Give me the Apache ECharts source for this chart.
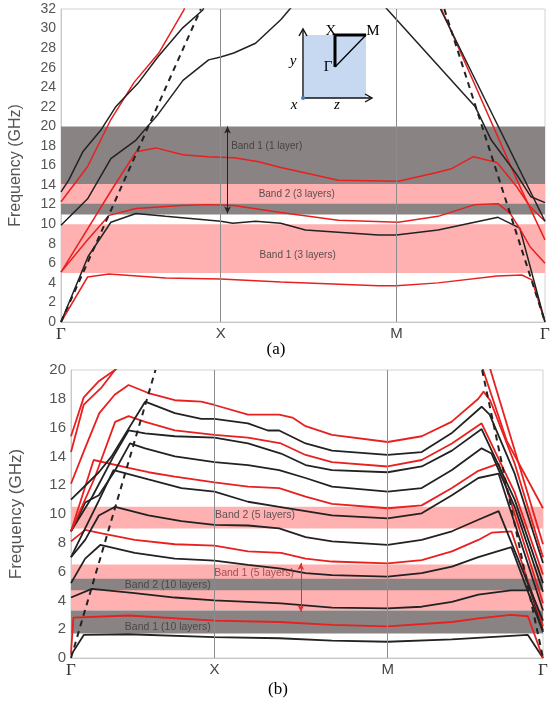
<!DOCTYPE html>
<html><head><meta charset="utf-8">
<script src="https://cdn.jsdelivr.net/npm/echarts@6/dist/echarts.min.js"></script>
<style>html,body{margin:0;padding:0;background:#fff}#c{width:558px;height:708px}</style>
</head><body><div id="c"></div>
<script>
// ---------- Panel (a) : 1-layer / 3-layer dispersion ----------
const a_yTicks = [0, 32, 2];
const a_kPoints = [{pos:0,lab:'Γ'},{pos:33.0,lab:'X'},{pos:69.3,lab:'M'},{pos:100,lab:'Γ'}];
const a_grayBands = [[11.0,20.0]];
const a_pinkBands = [[12.1,14.1],[5.0,10.0]];
const a_blackAcoustic = [[0,0],[5.6,6.7],[10.3,10.2],[15.5,11.1],[21.6,10.8],[33.0,10.3],[35.5,10.1],[40.2,10.3],[45.4,10.1],[50.5,9.4],[65.6,8.9],[69.3,8.9],[77.9,9.4],[90.3,10.7],[94.8,9.6],[100,0]];
const a_redAcoustic = [[0,0],[5.5,4.6],[9.9,4.9],[21.6,4.5],[33.0,4.4],[45.4,4.1],[65.6,3.7],[69.3,3.7],[77.9,4.0],[90.1,4.7],[95.2,4.8],[97.3,4.3],[100,0]];
const a_red12 = [[0,5.1],[5.5,8.4],[9.9,10.9],[15.5,11.6],[24.7,11.9],[30.3,12.0],[35.7,11.9],[45.4,11.2],[57.3,10.4],[69.7,10.2],[77.9,10.8],[85.5,12.0],[90.3,12.1],[92.8,11.1],[95.2,9.2],[96.9,7.7],[100,6.0]];
const a_red17 = [[0,5.1],[10.7,13.7],[15.5,17.4],[19.6,17.8],[25.2,17.1],[30.3,16.9],[35.7,16.8],[40.6,16.4],[45.4,15.8],[57.3,14.5],[69.7,14.4],[77.9,15.3],[80.8,15.7],[85.2,16.9],[90.1,16.3],[94.2,13.8],[96.9,11.8],[100,10.3]];
const a_redUpLeft = [[0,12.3],[5.5,15.9],[10.3,20.7],[15.1,24.5],[20.2,27.5],[25.4,31.9],[25.6,32.3]];
const a_redUpRight = [[78.6,32],[94.2,14.5],[100,8.4]];
const a_blackUpLeft = [[0,13.3],[1.6,14.5],[4.5,17.4],[8.2,19.6],[11.3,22.0],[15.9,24.4],[20.0,27.1],[25.2,30.1],[29.3,31.9],[29.6,32.3]];
const a_blackMidLeft = [[0,9.9],[5.5,12.6],[10.3,16.7],[15.5,18.6],[17.9,20.0],[20.0,21.2],[25.2,24.7],[30.5,26.8],[33.0,27.1],[35.7,27.5],[40.2,28.5],[45.4,30.9],[47.8,32.3]];
const a_blackMidRight = [[66.8,32.3],[85.6,22.0],[88.9,18.6],[94.0,15.2],[97.1,12.8],[100,12.2]];
const a_blackUpRight = [[78.4,32],[100,10.3]];
const a_dashLeft = [[0,0],[28.9,32]];
const a_dashRight = [[79.2,32],[100,0]];
const a_arrow = {t:34.4, from:20.0, to:11.1};
const a_labels = [
  {t:42.5, f:18.0, text:'Band 1 (1 layer)'},
  {t:48.7, f:13.1, text:'Band 2 (3 layers)'},
  {t:48.9, f:6.85, text:'Band 1 (3 layers)'}
];

// ---------- Panel (b) : 5-layer / 10-layer dispersion ----------
const b_yTicks = [0, 20, 2];
const b_kPoints = [{pos:0,lab:'Γ'},{pos:30.4,lab:'X'},{pos:67.1,lab:'M'},{pos:100,lab:'Γ'}];
const b_pinkBandsLow = [[3.3,6.5]];
const b_grayBands = [[4.7,5.5],[1.7,3.3]];
const b_pinkBandsHigh = [[9.0,10.5]];
const b_redA = [[0,15.4],[2.7,18.1],[5.8,19.2],[9.3,20.0],[10.5,20.3]];
const b_redB = [[0,14.3],[2.7,17.6],[6.5,18.8],[9.3,20.0],[10.0,20.3]];
const b_redA_R = [[87.0,20.3],[92.3,15.1],[100,10.4]];
const b_redB_R = [[88.6,20.3],[100,7.9]];
const b_dashLeft = [[0,0],[17.9,20]];
const b_dashRight = [[87.1,20],[100,0]];
const b_L1 = [[0,12.1],[2.9,14.5],[6.0,17.0],[9.3,18.3],[12.2,18.96],[16.4,18.4],[22.0,17.9],[27.6,17.8],[30.4,17.57],[37.5,16.9],[44.1,16.9],[46.9,16.7],[49.7,16.1],[55.3,15.5],[67.1,15.0],[74.3,15.4],[80.6,16.4],[86.3,18.0],[87.4,18.5],[88.8,17.9],[94,13.5],[100,7.0]];
const b_L2 = [[0,11.0],[5.9,12.9],[8.6,14.0],[15.7,17.8],[22.0,17.0],[27.6,16.6],[30.4,16.6],[37.5,16.3],[41.7,15.8],[44.1,15.8],[49.7,14.9],[55.3,14.4],[67.1,14.1],[74.3,14.3],[80.6,15.6],[87.0,17.45],[88.7,16.9],[94,12.8],[100,6.6]];
const b_L3 = [[0,8.8],[5,12.5],[9.35,16.4],[12.2,16.8],[15.7,16.4],[22.0,15.8],[27.6,15.6],[30.4,15.5],[37.5,15.3],[44.5,14.9],[49.7,14.1],[55.3,13.6],[67.1,13.3],[74.3,13.75],[80.7,14.9],[87.0,16.3],[94,11.5],[100,5.8]];
const b_L4 = [[0,8.8],[4.5,11.2],[9.0,14.0],[12.2,15.8],[15.7,15.6],[22.0,15.4],[30.4,15.3],[37.5,14.9],[44.5,14.2],[49.7,13.4],[55.3,13.05],[67.1,12.9],[74.3,13.3],[80.7,14.4],[87.0,15.9],[94,11.0],[100,5.2]];
const b_L5 = [[0,8.8],[3.0,10.8],[5.9,11.3],[9.3,13.0],[12.5,14.9],[15.7,14.56],[22.0,14.0],[30.4,13.6],[37.5,13.4],[44.1,13.05],[49.7,12.5],[55.3,11.9],[67.1,11.55],[74.3,11.8],[80.7,13.05],[87.0,14.56],[89.1,14.2],[94,10.5],[100,4.6]];
const b_L6 = [[0,8.8],[4.8,13.75],[12.2,13.2],[16.4,12.9],[22.0,12.6],[30.4,12.2],[37.5,11.9],[44.1,11.8],[49.7,11.2],[55.3,10.7],[67.1,10.4],[74.3,10.6],[80.7,11.8],[86.3,13.0],[90.6,13.5],[100,3.8]];
const b_L7 = [[0,7.0],[3.0,9.0],[6.0,11.0],[9.0,13.05],[16.4,12.4],[23.4,11.8],[30.4,11.55],[37.5,10.85],[44.1,10.5],[49.7,10.2],[55.3,9.9],[67.1,9.7],[74.3,10.05],[80.7,11.3],[86.3,12.5],[90.6,12.8],[100,3.3]];
const b_L8 = [[0,7.0],[3.0,8.2],[5.9,9.9],[9.35,10.5],[16.4,9.9],[23.4,9.5],[30.4,9.25],[37.5,9.2],[44.1,9.0],[49.7,8.4],[55.3,8.1],[67.1,7.85],[74.3,8.2],[80.7,8.8],[86.3,9.6],[90.6,10.2],[100,2.6]];
const b_L9 = [[0,8.1],[3.0,8.9],[6.5,8.66],[13.5,8.2],[22.0,7.9],[30.4,7.8],[37.5,7.4],[44.5,7.3],[49.7,6.9],[55.3,6.7],[67.1,6.57],[74.3,6.8],[80.7,7.4],[86.3,8.2],[89.1,8.7],[93.3,8.8],[100,2.2]];
const b_L10 = [[0,5.2],[3.0,6.9],[6.2,7.85],[13.5,7.3],[22.0,6.9],[30.4,6.76],[37.5,6.46],[44.5,6.2],[49.7,5.9],[55.3,5.76],[67.1,5.65],[74.3,5.9],[80.7,6.35],[86.3,7.0],[93.3,7.7],[100,1.8]];
const b_L11 = [[0,4.2],[4.4,4.8],[13.5,4.5],[22.0,4.2],[30.4,4.0],[37.5,3.9],[44.5,3.8],[55.3,3.5],[67.1,3.45],[74.3,3.56],[80.7,3.9],[86.3,4.4],[93.2,4.7],[97.3,4.7],[100,1.9]];
const b_L12 = [[0,0.3],[0.5,2.8],[12.2,2.95],[30.4,2.6],[44.1,2.5],[55.3,2.3],[67.1,2.2],[80.7,2.5],[86.3,2.75],[93.2,3.0],[96.8,2.9],[100,0]];
const b_L13 = [[0,0.2],[2.7,1.6],[12.2,1.65],[30.4,1.45],[44.1,1.37],[55.3,1.2],[67.1,1.13],[80.7,1.3],[96.8,1.6],[100,0]];
const b_arrow = {t:48.7, from:6.6, to:3.2};
const b_labels = [
  {t:39.0, f:9.9, text:'Band 2 (5 layers)', color:'#3a3a3a'},
  {t:38.8, f:5.9, text:'Band 1 (5 layers)', color:'#8a3434'},
  {t:20.5, f:5.07, text:'Band 2 (10 layers)', color:'#3a3a3a'},
  {t:20.5, f:2.15, text:'Band 1 (10 layers)', color:'#3a3a3a'}
];

const RED = '#e8201f', BLK = '#222222', GRAY = '#8a8383', PINK = '#ffb0b0';

function ln(data, color, g, dash) {
  return {type:'line', xAxisIndex:g, yAxisIndex:g, data:data, showSymbol:false, symbol:'none',
    silent:true, animation:false, clip:true, z:4,
    lineStyle:{color:color, width: dash ? 2 : (g ? 1.8 : 1.5), type: dash ? [6,5] : 'solid'}};
}
function bands(list, color, g, z) {
  return {type:'line', xAxisIndex:g, yAxisIndex:g, data:[], silent:true, animation:false, z:z,
    markArea:{silent:true, itemStyle:{color:color}, data:list.map(b => [{yAxis:b[0]},{yAxis:b[1]}])}};
}
function vlines(ks, g) {
  return {type:'line', xAxisIndex:g, yAxisIndex:g, data:[], silent:true, animation:false, z:3,
    markLine:{silent:true, symbol:'none', label:{show:false}, animation:false,
      lineStyle:{color:'#8c8c8c', width:1, type:'solid'},
      data: ks.filter(k => k.pos > 0 && k.pos < 100).map(k => ({xAxis:k.pos}))}};
}
function arrow(a, g, color) {
  return {type:'line', xAxisIndex:g, yAxisIndex:g, data:[], silent:true, animation:false, z:5,
    markLine:{silent:true, symbol:['arrow','arrow'], symbolSize:[5,7], label:{show:false}, animation:false,
      lineStyle:{color:color, width:1, type:'solid'},
      data:[[{coord:[a.t, a.from]},{coord:[a.t, a.to]}]]}};
}
function labels(list, g, fs) {
  return {type:'scatter', xAxisIndex:g, yAxisIndex:g, silent:true, animation:false, z:6,
    symbolSize:1, itemStyle:{color:'rgba(0,0,0,0)'},
    data:list.map(l => ({value:[l.t, l.f], name:l.text, label:{color:l.color || '#333'}})),
    label:{show:true, position:'inside', formatter:'{b}', fontSize:fs, fontFamily:'Liberation Sans', color:'#333'}};
}
function xAx(g, ks) {
  return {gridIndex:g, type:'value', min:0, max:100,
    axisLine:{show:true, lineStyle:{color:'#c8c8c8'}}, axisTick:{show:false}, splitLine:{show:false},
    axisLabel:{customValues: ks.map(k => k.pos), showMinLabel:true, showMaxLabel:true,
      formatter: v => { const k = ks.find(q => Math.abs(q.pos - v) < 0.01); return k ? (k.lab === 'Γ' ? '{g|Γ}' : k.lab) : ''; },
      fontSize:15, color:'#444', margin:4, fontFamily:'Liberation Sans',
      rich:{g:{fontFamily:'Liberation Serif', fontSize:17, color:'#333'}}}};
}
function yAx(g, t, fs, nfs, gap) {
  return {gridIndex:g, type:'value', min:t[0], max:t[1], interval:t[2],
    axisLine:{show:true, lineStyle:{color:'#c8c8c8'}}, axisTick:{show:false}, splitLine:{show:false},
    axisLabel:{fontSize:fs, color:'#555', margin:5, fontFamily:'Liberation Sans'},
    name:'Frequency (GHz)', nameLocation:'middle', nameRotate:90, nameGap:gap,
    nameTextStyle:{fontSize:nfs, color:'#555', fontFamily:'Liberation Sans'}};
}

const series = [
  bands(a_grayBands, GRAY, 0, 1),
  bands(a_pinkBands, PINK, 0, 2),
  vlines(a_kPoints, 0),
  ln(a_redAcoustic, RED, 0), ln(a_blackAcoustic, BLK, 0),
  ln(a_red12, RED, 0), ln(a_red17, RED, 0),
  ln(a_redUpLeft, RED, 0), ln(a_redUpRight, RED, 0),
  ln(a_blackUpLeft, BLK, 0), ln(a_blackMidLeft, BLK, 0), ln(a_blackMidRight, BLK, 0), ln(a_blackUpRight, BLK, 0),
  ln(a_dashLeft, BLK, 0, true), ln(a_dashRight, BLK, 0, true),
  arrow(a_arrow, 0, '#222'),
  labels(a_labels, 0, 10),

  bands(b_pinkBandsLow, PINK, 1, 1),
  bands(b_grayBands, GRAY, 1, 2),
  bands(b_pinkBandsHigh, PINK, 1, 1),
  vlines(b_kPoints, 1),
  ln(b_L13, BLK, 1), ln(b_L12, RED, 1), ln(b_L11, BLK, 1), ln(b_L10, BLK, 1), ln(b_L9, RED, 1),
  ln(b_L8, BLK, 1), ln(b_L7, BLK, 1), ln(b_L6, RED, 1), ln(b_L5, BLK, 1), ln(b_L4, BLK, 1),
  ln(b_L3, RED, 1), ln(b_L2, BLK, 1), ln(b_L1, RED, 1),
  ln(b_redA, RED, 1), ln(b_redB, RED, 1), ln(b_redA_R, RED, 1), ln(b_redB_R, RED, 1),
  ln(b_dashLeft, BLK, 1, true), ln(b_dashRight, BLK, 1, true),
  arrow(b_arrow, 1, '#e03030'),
  labels(b_labels, 1, 10.5)
];

const txt = (s, x, y, font, extra) => Object.assign({type:'text', z:20, silent:true,
  style:{text:s, x:x, y:y, font:font, fill:'#000', textAlign:'center', textVerticalAlign:'middle'}}, extra || {});

const chart = echarts.init(document.getElementById('c'));
chart.setOption({
  animation:false,
  backgroundColor:'#fff',
  grid:[
    {left:60, top:9, width:485, height:313, show:true, borderColor:'#d2d2d2', borderWidth:1, backgroundColor:'rgba(0,0,0,0)'},
    {left:69, top:370, width:474, height:288, show:true, borderColor:'#d2d2d2', borderWidth:1, backgroundColor:'rgba(0,0,0,0)'}
  ],
  xAxis:[xAx(0, a_kPoints), xAx(1, b_kPoints)],
  yAxis:[yAx(0, a_yTicks, 14, 16, 37), yAx(1, b_yTicks, 15, 17, 46)],
  series:series,
  graphic:[
    {type:'rect', z:20, silent:true, shape:{x:304, y:35, width:62, height:63}, style:{fill:'#c6d9f0'}},
    {type:'line', z:21, silent:true, shape:{x1:303, y1:98, x2:303, y2:30}, style:{stroke:'#111', lineWidth:1.4}},
    {type:'polyline', z:21, silent:true, shape:{points:[[299,36],[303,29],[307,36]]}, style:{stroke:'#111', lineWidth:1.4, fill:null}},
    {type:'line', z:21, silent:true, shape:{x1:303, y1:98, x2:371, y2:98}, style:{stroke:'#111', lineWidth:1.4}},
    {type:'polyline', z:21, silent:true, shape:{points:[[365,94],[372,98],[365,102]]}, style:{stroke:'#111', lineWidth:1.4, fill:null}},
    {type:'polyline', z:21, silent:true, shape:{points:[[335,67],[335,35],[366,35]]}, style:{stroke:'#000', lineWidth:3, fill:null}},
    {type:'line', z:21, silent:true, shape:{x1:335, y1:67, x2:366, y2:35}, style:{stroke:'#000', lineWidth:1.3}},
    {type:'circle', z:22, silent:true, shape:{cx:303, cy:98, r:2}, style:{fill:'#4a7ebb'}},
    txt('X', 331, 31, '15px "Liberation Serif"'),
    txt('M', 373, 31, '15px "Liberation Serif"'),
    txt('Γ', 328, 67, '15px "Liberation Serif"'),
    txt('y', 293, 61, 'italic 15px "Liberation Serif"'),
    txt('x', 294, 105, 'italic 15px "Liberation Serif"'),
    txt('z', 337, 105, 'italic 15px "Liberation Serif"'),
    txt('(a)', 276, 350, '17px "Liberation Serif"'),
    txt('(b)', 278, 690, '17px "Liberation Serif"')
  ]
});
</script></body></html>
